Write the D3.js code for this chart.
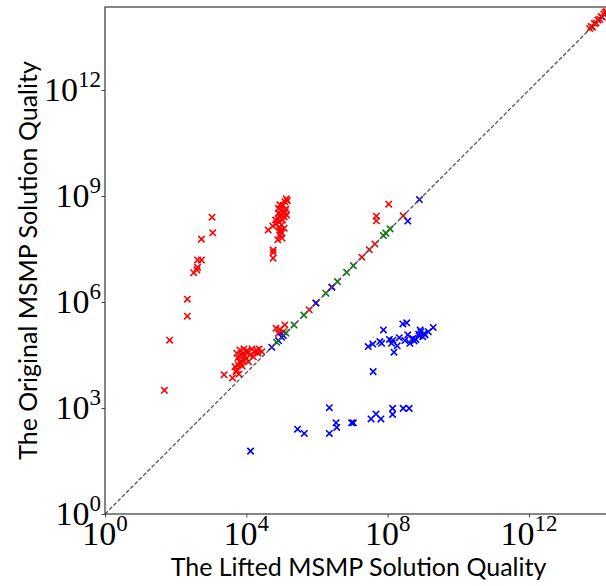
<!DOCTYPE html>
<html>
<head>
<meta charset="utf-8">
<script src="https://cdn.jsdelivr.net/npm/d3@7"></script>
<style>
  body { margin: 0; background: #fff; }
  svg { display: block; }
</style>
</head>
<body>
<svg id="chart"></svg>
<script>
// all values are log10 of the solution quality
const xTickExps = [0, 4, 8, 12];
const yTickExps = [0, 3, 6, 9, 12];

// red: lifted better (points above the diagonal)
const redSteep = [[3.03,8.40],[3.05,7.96],[2.73,7.78],[2.62,7.19],[2.73,7.19],[2.62,6.98],[2.60,6.91],[2.51,6.83],[2.33,6.08],[2.33,5.60],[1.83,4.92],[1.68,3.50]];
const redUpper = [[4.62,8.04],[4.75,8.15],[4.83,8.32],[4.89,7.76],[4.76,7.47],[4.76,7.40],[4.76,7.24],[5.16,8.87],[5.09,8.84],[4.95,8.75],[5.00,8.61],[4.91,8.65],[5.05,8.51],[5.14,8.46],[4.95,8.41],[5.03,8.32],[5.00,8.18],[4.95,8.04],[5.00,7.95],[4.95,7.90],[5.07,8.41],[4.91,8.51],[5.04,8.74],[4.92,8.26],[5.07,8.09],[4.90,8.35],[5.12,8.63],[5.01,7.81],[4.84,8.21],[5.10,8.55],[4.98,8.48],[4.93,8.12],[4.97,7.99],[5.13,8.92]];
const redLower = [[3.37,3.94],[3.61,3.85],[3.73,4.55],[3.82,4.64],[4.01,4.62],[4.29,4.64],[4.44,4.59],[3.91,4.36],[3.77,4.22],[3.73,4.08],[4.10,4.50],[4.20,4.45],[3.87,4.50],[4.06,4.31],[3.82,4.31],[3.68,4.17],[3.71,4.03],[3.93,4.67],[4.16,4.67],[4.36,4.67],[4.05,4.59],[3.96,4.47],[3.88,4.19],[3.76,4.42],[4.33,4.56],[3.79,3.96],[3.90,4.55],[4.00,4.40],[3.80,4.48],[4.25,4.58],[3.85,4.25]];
const redNear = [[4.84,5.26],[4.95,5.23],[5.09,5.35],[4.91,5.11],[5.05,5.16],[8.03,8.77],[7.68,8.43],[7.68,8.30]];
const redDiag = [5.78, 5.97, 6.42, 7.27, 7.48, 7.64, 8.44];
const redTop = [[13.72,13.74],[13.76,13.80],[13.80,13.78],[13.85,13.88],[13.90,13.90],[13.95,13.98],[14.00,14.00],[14.04,14.08],[14.08,14.06],[14.12,14.15],[14.16,14.20],[14.20,14.22]];

// blue: original better (points below the diagonal)
const blueRight = [[7.45,4.74],[7.58,4.81],[7.78,4.88],[7.83,4.83],[7.88,5.21],[8.05,4.94],[8.11,4.83],[8.18,4.58],[8.27,4.76],[8.33,4.99],[8.43,5.38],[8.54,5.41],[8.49,4.91],[8.57,5.07],[8.63,4.83],[8.71,4.97],[8.80,4.94],[8.88,5.09],[8.94,5.16],[8.99,5.02],[8.92,5.21],[9.03,5.11],[9.15,5.16],[9.29,5.28],[7.59,4.03],[8.89,5.04],[9.06,5.07],[8.75,4.90],[8.15,4.92]];
const blueLower = [[4.12,1.78],[5.45,2.40],[5.64,2.28],[6.35,3.01],[6.35,2.28],[6.54,2.58],[6.56,2.45],[6.98,2.58],[7.03,2.58],[7.53,2.69],[7.67,2.83],[7.81,2.69],[8.14,2.99],[8.14,2.82],[8.44,2.99],[8.61,2.99]];
const blueOff = [[8.57,8.29]];
const blueDiag = [4.72, 4.91, 5.00, 5.05, 5.97, 6.42, 8.90];

// green: both equal
const greenDiag = [4.86, 5.12, 5.35, 5.63, 6.25, 6.58, 6.84, 7.03, 7.88, 7.95, 8.07];

const width = 606, height = 586;
const mLeft = 105, mRight = 612, mTop = 7, mBottom = 514;
const maxExp = 14.35;

const svg = d3.select('#chart').attr('width', width).attr('height', height);

const x = d3.scaleLog().domain([1, 10 ** maxExp]).range([mLeft, mRight]);
const y = d3.scaleLog().domain([1, 10 ** maxExp]).range([mBottom, mTop]);

svg.append('defs').append('clipPath').attr('id', 'plotClip')
    .append('rect').attr('x', mLeft).attr('y', mTop - 4)
    .attr('width', mRight - mLeft).attr('height', mBottom - mTop + 4);

const toPts = (arr) => arr.map(d => ({ x: 10 ** d[0], y: 10 ** d[1] }));
const diagPts = (arr) => arr.map(v => ({ x: 10 ** v, y: 10 ** v }));

const groups = [
    { color: '#ff0000', pts: toPts(redSteep).concat(toPts(redUpper), toPts(redLower), toPts(redNear), diagPts(redDiag), toPts(redTop)) },
    { color: '#0000ff', pts: toPts(blueRight).concat(toPts(blueLower), toPts(blueOff), diagPts(blueDiag)) },
    { color: '#008000', pts: diagPts(greenDiag) }
];

const plot = svg.append('g').attr('clip-path', 'url(#plotClip)');
const r = 3.2;

groups.forEach(g => {
    plot.append('g').selectAll('path')
        .data(g.pts)
        .enter()
        .append('path')
        .attr('d', d => {
            const cx = x(d.x), cy = y(d.y);
            return `M${cx - r},${cy - r}L${cx + r},${cy + r}M${cx - r},${cy + r}L${cx + r},${cy - r}`;
        })
        .attr('stroke', g.color)
        .attr('stroke-width', 1.6)
        .attr('fill', 'none');
});

// y = x reference line
plot.append('line')
    .attr('x1', x(1)).attr('y1', y(1))
    .attr('x2', x(10 ** maxExp)).attr('y2', y(10 ** maxExp))
    .attr('stroke', '#555')
    .attr('stroke-width', 1.3)
    .attr('stroke-dasharray', '4,2');

// ticks
const xAxis = svg.append('g').attr('transform', `translate(0,${mBottom})`)
    .call(d3.axisBottom(x).tickValues(xTickExps.map(e => 10 ** e)).tickSize(3.5).tickFormat(''));
const yAxis = svg.append('g').attr('transform', `translate(${mLeft},0)`)
    .call(d3.axisLeft(y).tickValues(yTickExps.map(e => 10 ** e)).tickSize(3.5).tickFormat(''));
[xAxis, yAxis].forEach(a => {
    a.select('.domain').remove();
    a.selectAll('line').attr('stroke', '#444').attr('stroke-width', 1);
});

// spines
svg.append('rect')
    .attr('x', mLeft).attr('y', mTop)
    .attr('width', mRight - mLeft).attr('height', mBottom - mTop)
    .attr('fill', 'none').attr('stroke', '#444').attr('stroke-width', 1.3);

// tick labels with superscripts
const tickFont = 'Liberation Serif, DejaVu Serif, serif';
xTickExps.forEach(e => {
    const t = svg.append('text')
        .attr('x', x(10 ** e)).attr('y', 545)
        .attr('text-anchor', 'middle')
        .attr('font-family', tickFont).attr('font-size', 34);
    t.append('tspan').text('10');
    t.append('tspan').attr('dy', -14).attr('font-size', 23).text(e);
});
yTickExps.forEach(e => {
    const t = svg.append('text')
        .attr('x', mLeft - 4).attr('y', y(10 ** e) + 11)
        .attr('text-anchor', 'end')
        .attr('font-family', tickFont).attr('font-size', 34);
    t.append('tspan').text('10');
    t.append('tspan').attr('dy', -14).attr('font-size', 23).text(e);
});

// axis titles
svg.append('text')
    .attr('x', (mLeft + mRight) / 2).attr('y', 576)
    .attr('text-anchor', 'middle')
    .attr('font-family', 'Lato, sans-serif').attr('font-size', 25)
    .attr('fill', '#000')
    .text('The Lifted MSMP Solution Quality');

svg.append('text')
    .attr('transform', `translate(37,${(mTop + mBottom) / 2}) rotate(-90)`)
    .attr('text-anchor', 'middle')
    .attr('font-family', 'Lato, sans-serif').attr('font-size', 25)
    .attr('fill', '#000')
    .text('The Original MSMP Solution Quality');
</script>
</body>
</html>
